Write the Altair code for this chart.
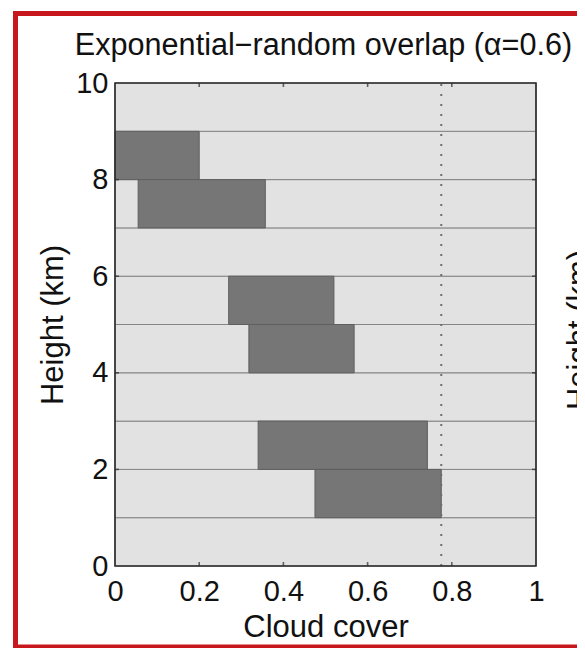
import altair as alt
import pandas as pd

# ---- data ----
layer_bottom = [0, 1, 2, 3, 4, 5, 6, 7, 8, 9]
layer_top = [1, 2, 3, 4, 5, 6, 7, 8, 9, 10]

cloud_bottom = [8, 7, 5, 4, 2, 1]
cloud_top = [9, 8, 6, 5, 3, 2]
cloud_left = [0.0, 0.055, 0.27, 0.318, 0.34, 0.475]
cloud_right = [0.2, 0.357, 0.52, 0.568, 0.742, 0.775]

total_cover = [0.775]

x_tick_values = [0, 0.2, 0.4, 0.6, 0.8, 1]
y_tick_values = [0, 2, 4, 6, 8, 10]
x_inner_ticks = [0.2, 0.4, 0.6, 0.8]
y_inner_ticks = [2, 4, 6, 8]

title_text = "Exponential\u2212random overlap (\u03b1=0.6)"
x_title = "Cloud cover"
y_title = "Height (km)"

FONT = "Liberation Sans"
W, H = 421, 483
PAD_L, PAD_T, PAD_R, PAD_B = 107, 75, 41, 82

layers_df = pd.DataFrame({"x0": [0.0] * len(layer_bottom), "x1": [1.0] * len(layer_bottom),
                          "y0": layer_bottom, "y1": layer_top})
clouds_df = pd.DataFrame({"x0": cloud_left, "x1": cloud_right, "y0": cloud_bottom, "y1": cloud_top})
cover_df = pd.DataFrame({"x": total_cover, "y0": [0], "y1": [10]})
frame_df = pd.DataFrame({"x0": [0.0], "x1": [1.0], "y0": [0], "y1": [10]})

xscale = alt.Scale(domain=[0, 1], nice=False, zero=False)
yscale = alt.Scale(domain=[0, 10], nice=False, zero=False)

xaxis = alt.Axis(values=x_tick_values, format="~g", title=x_title, ticks=False, tickSize=0,
                 domain=False, grid=False, labelFont=FONT, labelFontSize=29, labelColor="#111",
                 labelPadding=11, titleFont=FONT, titleFontSize=31, titleFontWeight="normal",
                 titleColor="#111", titlePadding=6, labelFlush=False)
yaxis = alt.Axis(values=y_tick_values, format="d", title=y_title, ticks=False, tickSize=0,
                 domain=False, grid=False, labelFont=FONT, labelFontSize=29, labelColor="#111",
                 labelPadding=7, titleFont=FONT, titleFontSize=31, titleFontWeight="normal",
                 titleColor="#111", titlePadding=6, labelFlush=False)

bg = alt.Chart(layers_df).mark_rect(fill="#e2e2e2", stroke="#858585", strokeWidth=1).encode(
    x=alt.X("x0:Q", scale=xscale, axis=xaxis), x2="x1:Q",
    y=alt.Y("y0:Q", scale=yscale, axis=yaxis), y2="y1:Q")

clouds = alt.Chart(clouds_df).mark_rect(fill="#767676", stroke="#5f5f5f", strokeWidth=1).encode(
    x="x0:Q", x2="x1:Q", y="y0:Q", y2="y1:Q")

cover = alt.Chart(cover_df).mark_rule(color="#6e6e6e", strokeWidth=2, strokeDash=[2, 8]).encode(
    x="x:Q", y="y0:Q", y2="y1:Q")

frame = alt.Chart(frame_df).mark_rect(fill=None, stroke="#2a2a2a", strokeWidth=1.6).encode(
    x="x0:Q", x2="x1:Q", y="y0:Q", y2="y1:Q")

xt_df = pd.DataFrame({"x": x_inner_ticks * 2, "y": [0] * 4 + [10] * 4})
yt_df = pd.DataFrame({"y": y_inner_ticks * 2, "x": [0.0] * 4 + [1.0] * 4})
xticks = alt.Chart(xt_df).mark_tick(orient="vertical", size=8, thickness=1.6, color="#2a2a2a",
                                    clip=True).encode(x="x:Q", y="y:Q")
yticks = alt.Chart(yt_df).mark_tick(orient="horizontal", size=8, thickness=1.6, color="#2a2a2a",
                                    clip=True).encode(x="x:Q", y="y:Q")

border = alt.Chart(alt.Data(values=[{}])).mark_rect(
    fill=None, stroke="#c8161d", strokeWidth=5, clip=False).encode(
    x=alt.value(-99.5), x2=alt.value(520), y=alt.value(-69.5), y2=alt.value(H + PAD_B - 1))

title_mark = alt.Chart(alt.Data(values=[{"t": title_text}])).mark_text(
    font=FONT, fontSize=30.6, align="center", baseline="middle", color="#111",
    clip=False).encode(x=alt.value(W / 2 - 2), y=alt.value(-37), text="t:N")

next_title = alt.Chart(alt.Data(values=[{"t": y_title}])).mark_text(
    font=FONT, fontSize=31, angle=270, align="center", baseline="middle", color="#111",
    clip=False).encode(x=alt.value(465), y=alt.value(247), text="t:N")

chart = alt.layer(bg, clouds, cover, frame, xticks, yticks, border, title_mark, next_title).properties(
    width=W, height=H,
    autosize=alt.AutoSizeParams(type="none"),
    padding={"left": PAD_L, "top": PAD_T, "right": PAD_R, "bottom": PAD_B},
).configure_view(stroke=None)

chart.save("out.html", embed_options={"renderer": "svg", "actions": False})
